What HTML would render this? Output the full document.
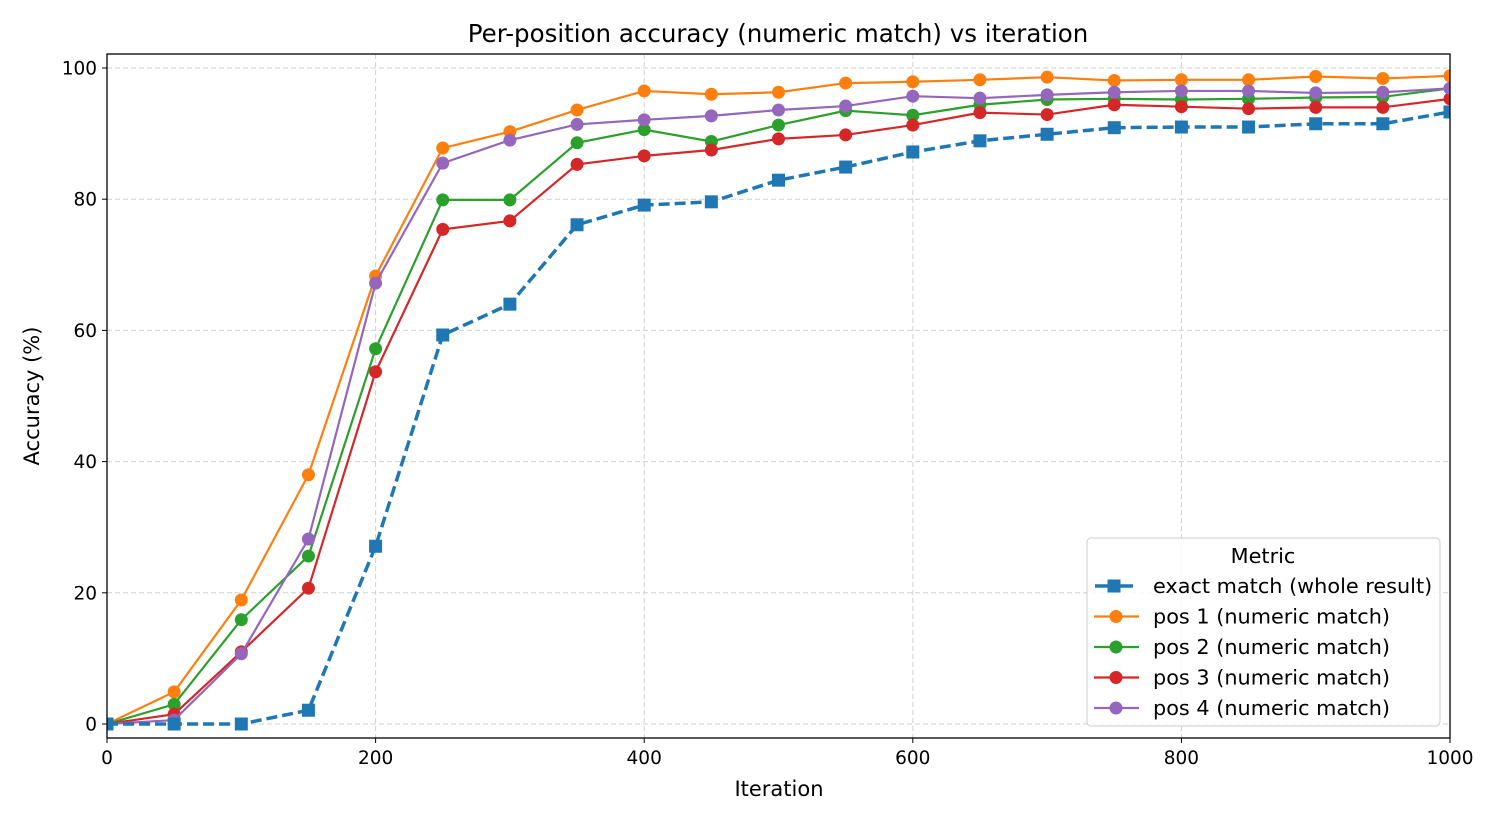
<!DOCTYPE html>
<html><head><meta charset="utf-8"><style>
html,body{margin:0;padding:0;background:#fff;}
svg{display:block;font-family:"DejaVu Sans","Liberation Sans",sans-serif;}
</style></head><body>
<svg id="chart" width="1500" height="825" viewBox="0 0 1500 825"></svg>
<script>
const iterations=[0,50,100,150,200,250,300,350,400,450,500,550,600,650,700,750,800,850,900,950,1000];
const exactMatch=[0,0,0,2.1,27.1,59.3,64.0,76.1,79.1,79.6,82.9,84.9,87.2,88.9,89.9,90.9,91.0,91.0,91.5,91.5,93.3];
const pos1=[0,4.9,18.9,38.0,68.3,87.8,90.3,93.6,96.5,96.0,96.3,97.7,97.9,98.2,98.6,98.1,98.2,98.2,98.7,98.4,98.8];
const pos2=[0,3.0,15.9,25.6,57.2,79.9,79.9,88.6,90.6,88.8,91.3,93.5,92.8,94.4,95.2,95.3,95.2,95.3,95.5,95.6,96.9];
const pos3=[0,1.5,11.0,20.7,53.7,75.4,76.7,85.3,86.6,87.5,89.2,89.8,91.3,93.2,92.9,94.4,94.1,93.8,94.0,94.0,95.3];
const pos4=[0,0.6,10.7,28.2,67.2,85.5,89.0,91.4,92.1,92.7,93.6,94.2,95.7,95.4,95.9,96.3,96.5,96.5,96.2,96.3,96.9];
const xTicks=[0,200,400,600,800,1000];
const yTicks=[0,20,40,60,80,100];
const seriesNames=["exact match (whole result)","pos 1 (numeric match)","pos 2 (numeric match)","pos 3 (numeric match)","pos 4 (numeric match)"];

const svg=document.getElementById('chart');
const NS='http://www.w3.org/2000/svg';
const L=107,R=1450,T=54,B=738;
const xs=v=>L+(v-0)/(1000)*(R-L);
const ys=v=>724-v*6.56;
function mk(tag,attrs,parent){const e=document.createElementNS(NS,tag);for(const k in attrs)e.setAttribute(k,attrs[k]);(parent||svg).appendChild(e);return e;}

const grid=mk('g',{});


xTicks.forEach(t=>mk('line',{x1:xs(t),x2:xs(t),y1:T,y2:B,stroke:'#d0d0d0','stroke-dasharray':'5,3','stroke-width':1},grid));
yTicks.forEach(t=>mk('line',{x1:L,x2:R,y1:ys(t),y2:ys(t),stroke:'#d0d0d0','stroke-dasharray':'5,3','stroke-width':1},grid));

const xt=mk('g',{});


xTicks.forEach(t=>{mk('line',{x1:xs(t),x2:xs(t),y1:B,y2:B+5,stroke:'#000'},xt);const tx=mk('text',{x:xs(t),y:B+26,'text-anchor':'middle','font-size':18.5},xt);tx.textContent=t;});
const yt=mk('g',{});


yTicks.forEach(t=>{mk('line',{x1:L-5,x2:L,y1:ys(t),y2:ys(t),stroke:'#000'},yt);const tx=mk('text',{x:L-10,y:ys(t)+6.5,'text-anchor':'end','font-size':18.5},yt);tx.textContent=t;});

const colors=['#1f77b4','#ff7f0e','#2ca02c','#d62728','#9467bd'];
const data=[exactMatch,pos1,pos2,pos3,pos4];
const clip=mk('clipPath',{id:'pc'});mk('rect',{x:L,y:T,width:R-L,height:B-T},clip);
[1,2,3,4,0].forEach(i=>{
  const g=mk('g',{'clip-path':'url(#pc)'});
  
  
  const pts=data[i].map((v,j)=>xs(iterations[j])+','+ys(v)).join(' ');
  const pl=mk('polyline',{points:pts,fill:'none',stroke:colors[i],'stroke-width':i===0?3.5:2.2},g);
  if(i===0)pl.setAttribute('stroke-dasharray','11,5');
  data[i].forEach((v,j)=>{
    const x=xs(iterations[j]),y=ys(v);
    const m=i===0?mk('rect',{x:x-6.5,y:y-6.5,width:13,height:13,fill:colors[i]},g):mk('circle',{cx:x,cy:y,r:6.5,fill:colors[i]},g);
    
    
  });
});

const fr=mk('rect',{x:L,y:T,width:R-L,height:B-T,fill:'none',stroke:'#000','stroke-width':1.3});



let t=mk('text',{x:778,y:42,'text-anchor':'middle','font-size':24.5});t.textContent='Per-position accuracy (numeric match) vs iteration';

t=mk('text',{x:779,y:796,'text-anchor':'middle','font-size':21});t.textContent='Iteration';

t=mk('text',{x:39,y:396,'text-anchor':'middle','font-size':21,transform:'rotate(-90 39 396)'});t.textContent='Accuracy (%)';


const lg=mk('g',{});


mk('rect',{x:1087,y:538,width:353,height:188,rx:4,fill:'#fff','fill-opacity':0.85,stroke:'#ccc'},lg);
t=mk('text',{x:1263,y:563,'text-anchor':'middle','font-size':20.8},lg);t.textContent='Metric';
seriesNames.forEach((n,i)=>{
  const y=586+i*30.5;
  const e=mk('g',{},lg);
  
  
  if(i===0){mk('line',{x1:1095,x2:1133,y1:y,y2:y,stroke:colors[0],'stroke-width':3.5},e);mk('rect',{x:1107.5,y:y-6.5,width:13,height:13,fill:colors[0]},e);}
  else{mk('line',{x1:1094,x2:1139,y1:y,y2:y,stroke:colors[i],'stroke-width':2.2},e);mk('circle',{cx:1116,cy:y,r:6.5,fill:colors[i]},e);}
  const tx=mk('text',{x:1153,y:y+7,'font-size':20.8},e);tx.textContent=n;
});
</script>
</body></html>
